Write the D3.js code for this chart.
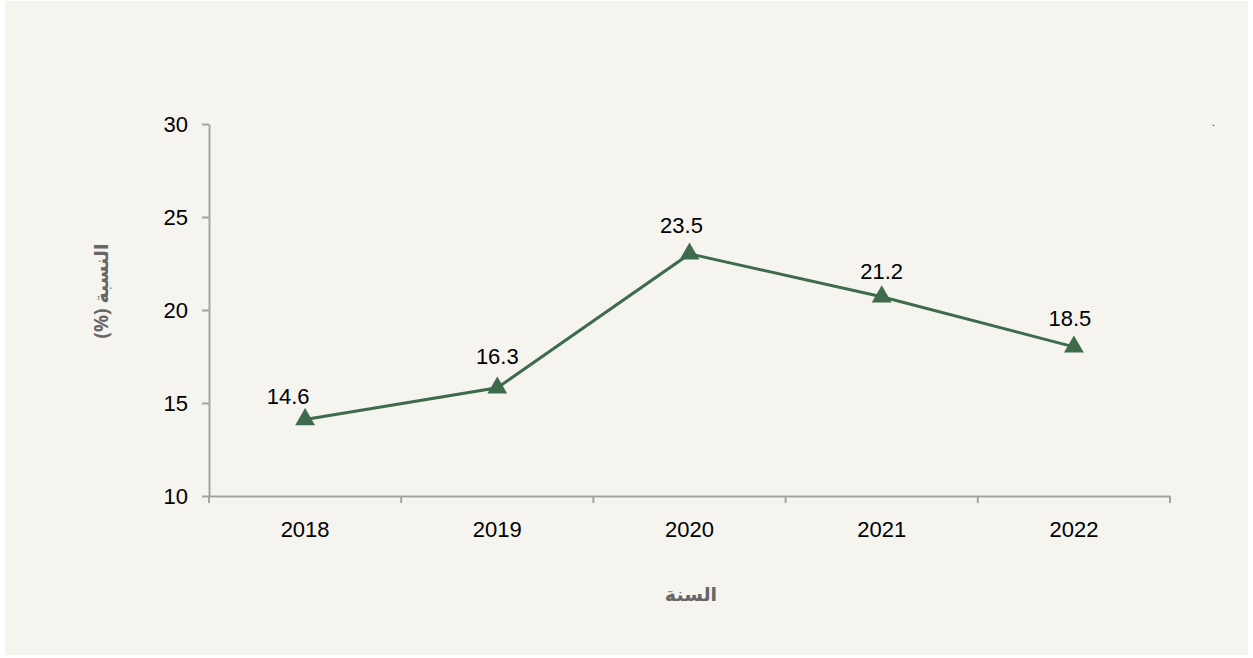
<!DOCTYPE html>
<html>
<head>
<meta charset="utf-8">
<script src="https://cdn.jsdelivr.net/npm/d3@7"></script>
<style>
  body { margin: 0; background: #ffffff; }
  svg { display: block; }
</style>
</head>
<body>
<svg id="chart"></svg>
<script>
const years = ['2018', '2019', '2020', '2021', '2022'];
const rates = [14.6, 16.3, 23.5, 21.2, 18.5];
const yTicks = [10, 15, 20, 25, 30];
// manual label nudges (dx, dy from the marker), as placed in the source
const labelNudge = [[-17, -15], [0, -24], [-8, -21], [0, -18], [-4, -21]];

let width = 1253;
let height = 658;
let plotLeft = 209, plotRight = 1170, plotTop = 124, plotBottom = 496;
let numFont = 'Liberation Sans, Arial, sans-serif';

let svg = d3.select('#chart')
    .attr('width', width)
    .attr('height', height);

// panel background
svg.append('rect')
    .attr('x', 5).attr('y', 1)
    .attr('width', 1243).attr('height', 654)
    .attr('fill', '#f5f4ef');

let xScale = d3.scaleBand()
    .domain(years)
    .range([plotLeft, plotRight]);

let yScale = d3.scaleLinear()
    .domain([10, 30])
    .range([plotBottom, plotTop]);

// y axis
let yAxis = d3.axisLeft(yScale)
    .tickValues(yTicks)
    .tickSize(7)
    .tickPadding(14)
    .tickSizeOuter(0);

let gy = svg.append('g')
    .attr('transform', 'translate(' + plotLeft + ',0)')
    .call(yAxis);
gy.select('.domain').attr('stroke', '#a3a3a3').attr('stroke-width', 2);
gy.selectAll('.tick line').attr('stroke', '#a3a3a3').attr('stroke-width', 2);
gy.selectAll('.tick text')
    .attr('fill', '#000')
    .style('font-family', numFont)
    .style('font-size', '22px');

// x axis: ticks at band edges
let xAxis = d3.axisBottom(xScale).tickSize(0).tickPadding(25).tickSizeOuter(0);
let gx = svg.append('g')
    .attr('transform', 'translate(0,' + plotBottom + ')')
    .call(xAxis);
gx.select('.domain').attr('stroke', '#a3a3a3').attr('stroke-width', 2);
gx.selectAll('.tick text')
    .attr('fill', '#000')
    .style('font-family', numFont)
    .style('font-size', '22px');

let edges = years.map(d => xScale(d)).concat([xScale(years[years.length - 1]) + xScale.bandwidth()]);
gx.selectAll('.edge')
    .data(edges)
    .enter()
    .append('line')
    .attr('x1', d => d).attr('x2', d => d)
    .attr('y1', 0).attr('y2', 7)
    .attr('stroke', '#a3a3a3')
    .attr('stroke-width', 2);

// series (drawn slightly low, as in the source image)
let series = svg.append('g').attr('transform', 'translate(0,9)');
let cx = d => xScale(d) + xScale.bandwidth() / 2;

let line = d3.line()
    .x((d, i) => cx(years[i]))
    .y(d => yScale(d));

series.append('path')
    .datum(rates)
    .attr('d', line)
    .attr('fill', 'none')
    .attr('stroke', '#3e6b4b')
    .attr('stroke-width', 3);

let tri = d3.symbol().type(d3.symbolTriangle).size(170);
series.selectAll('.marker')
    .data(rates)
    .enter()
    .append('path')
    .attr('d', tri)
    .attr('transform', (d, i) => 'translate(' + cx(years[i]) + ',' + yScale(d) + ')')
    .attr('fill', '#3e6b4b');

series.selectAll('.label')
    .data(rates)
    .enter()
    .append('text')
    .attr('x', (d, i) => cx(years[i]) + labelNudge[i][0])
    .attr('y', (d, i) => yScale(d) + labelNudge[i][1])
    .attr('text-anchor', 'middle')
    .style('font-family', numFont)
    .style('font-size', '22px')
    .attr('fill', '#000')
    .text(d => d.toFixed(1));

// axis titles
svg.append('text')
    .attr('transform', 'translate(108,291) rotate(-90)')
    .attr('text-anchor', 'middle')
    .attr('direction', 'rtl')
    .style('font-family', 'Noto Sans, DejaVu Sans, sans-serif')
    .style('font-size', '19px')
    .style('font-weight', 'bold')
    .attr('fill', '#666')
    .text('النسبة (%)');

svg.append('text')
    .attr('x', 691)
    .attr('y', 601)
    .attr('text-anchor', 'middle')
    .style('font-family', 'Noto Sans, DejaVu Sans, sans-serif')
    .style('font-size', '19px')
    .style('font-weight', 'bold')
    .attr('fill', '#666')
    .text('السنة');

svg.append('text')
    .attr('x', 1212).attr('y', 126)
    .style('font-family', numFont)
    .style('font-size', '10px')
    .attr('fill', '#000')
    .text('.');
</script>
</body>
</html>
